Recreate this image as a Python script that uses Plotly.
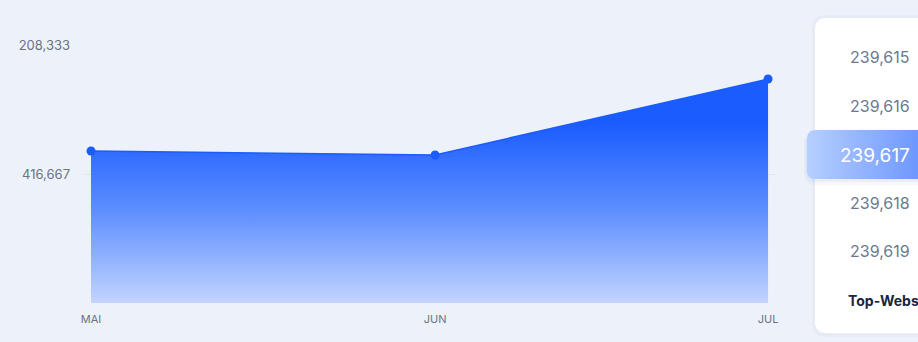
import plotly.graph_objects as go

# ---- data ----
months = ["2023-05-01", "2023-06-01", "2023-07-01"]
month_labels = ["MAI", "JUN", "JUL"]
ranks = [379500, 386000, 263200]
y_tickvals = [208333, 416667, 625000]
y_ticktext = ["208,333", "416,667", ""]
y_bottom = 625000
picker_values = ["239,615", "239,616", "239,617", "239,618", "239,619"]
picker_selected = 2
picker_title = "Top-Websites"

W, H = 918, 342
BG = "#edf2fa"
BLUE = "#1a5cff"
FONT = "Inter"


def round_rect(x0, y0, x1, y1, r, n=8):
    import math
    xs, ys = [], []
    corners = [(x1 - r, y0 + r, -90, 0), (x1 - r, y1 - r, 0, 90),
               (x0 + r, y1 - r, 90, 180), (x0 + r, y0 + r, 180, 270)]
    for cx, cy, a0, a1 in corners:
        for i in range(n + 1):
            a = math.radians(a0 + (a1 - a0) * i / n)
            xs.append(cx + r * math.cos(a))
            ys.append(cy + r * math.sin(a))
    xs.append(xs[0]); ys.append(ys[0])
    return xs, ys


fig = go.Figure()

# baseline for the area fill
fig.add_trace(go.Scatter(x=months, y=[y_bottom] * len(months), mode="lines",
                         line=dict(width=0), hoverinfo="skip", showlegend=False))
fig.add_trace(go.Scatter(
    x=months, y=ranks, mode="lines+markers", fill="tonexty",
    line=dict(color=BLUE, width=1.5),
    marker=dict(size=9, color=BLUE),
    fillgradient=dict(type="vertical", start=335000, stop=625000,
                      colorscale=[[0, BLUE], [0.5, "#6090ff"], [1, "#c3d4ff"]]),
    showlegend=False, hoverinfo="skip"))

# ---- picker card (pixel coordinates on overlay axes) ----
sx, sy = round_rect(812, 15, 930, 337, 12)
fig.add_trace(go.Scatter(x=sx, y=sy, fill="toself", mode="lines", line=dict(width=0),
                         fillcolor="rgba(120,140,180,0.06)", xaxis="x2", yaxis="y2",
                         hoverinfo="skip", showlegend=False))
cx, cy = round_rect(815, 18, 930, 333, 10)
fig.add_trace(go.Scatter(x=cx, y=cy, fill="toself", mode="lines", line=dict(width=0),
                         fillcolor="#ffffff", xaxis="x2", yaxis="y2",
                         hoverinfo="skip", showlegend=False))
# pill shadow
for d, a in [(6, 0.05), (3, 0.07)]:
    hx, hy = round_rect(807 - d / 2, 133, 935, 179 + d, 10)
    fig.add_trace(go.Scatter(x=hx, y=hy, fill="toself", mode="lines", line=dict(width=0),
                             fillcolor=f"rgba(90,120,200,{a})", xaxis="x2", yaxis="y2",
                             hoverinfo="skip", showlegend=False))
px_, py_ = round_rect(807, 130, 935, 179, 8)
fig.add_trace(go.Scatter(x=px_, y=py_, fill="toself", mode="lines", line=dict(width=0),
                         fillgradient=dict(type="horizontal", start=807, stop=918,
                                           colorscale=[[0, "#b6cfff"], [1, "#6e98ff"]]),
                         xaxis="x2", yaxis="y2", hoverinfo="skip", showlegend=False))

annotations = []
rows_y = [57, 106, 155, 203, 251]
for i, (v, yy) in enumerate(zip(picker_values, rows_y)):
    sel = i == picker_selected
    annotations.append(dict(x=912, y=yy, xref="x2", yref="y2", text=v, showarrow=False,
                            xanchor="right", yanchor="middle",
                            font=dict(family=FONT, size=19 if sel else 16,
                                      color="#ffffff" if sel else "#6b7a90")))
annotations.append(dict(x=846, y=300, xref="x2", yref="y2", text=f"<b>{picker_title}</b>",
                        showarrow=False, xanchor="left", yanchor="middle",
                        font=dict(family=FONT, size=14, color="#1b2540")))

fig.update_layout(
    width=W, height=H, margin=dict(l=0, r=0, t=0, b=0, pad=0, autoexpand=False),
    paper_bgcolor=BG, plot_bgcolor="rgba(0,0,0,0)",
    font=dict(family=FONT),
    annotations=annotations,
    xaxis=dict(domain=[85 / W, 775 / W], type="date", automargin=False,
               range=["2023-04-30 11:00", "2023-07-01 15:00"],
               tickvals=months, ticktext=month_labels, showgrid=False, zeroline=False,
               showline=False, ticks="", ticklabelstandoff=8,
               tickfont=dict(size=11, color="#6b7280", family=FONT)),
    yaxis=dict(domain=[1 - 303 / H, 1 - 45 / H], range=[625000, 208333], automargin=False,
               tickvals=y_tickvals, ticktext=y_ticktext, showgrid=True,
               gridcolor="#e0e6f0", gridwidth=1, zeroline=False, showline=False,
               ticks="", ticklabelstandoff=14,
               tickfont=dict(size=13, color="#6b7280", family=FONT)),
    xaxis2=dict(domain=[0, 1], range=[0, W], visible=False, fixedrange=True, automargin=False),
    yaxis2=dict(domain=[0, 1], range=[H, 0], visible=False, fixedrange=True, automargin=False),
)

fig.write_html("out.html", config={"displayModeBar": False})
